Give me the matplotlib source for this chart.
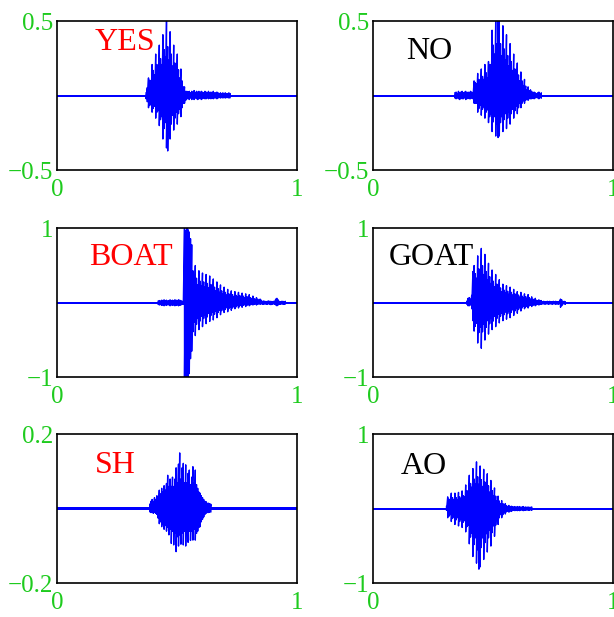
import numpy as np
import matplotlib
matplotlib.use("Agg")
import matplotlib.pyplot as plt

plt.rcParams['font.family'] = ['Liberation Serif', 'DejaVu Serif']

# ---------------- data (waveform envelopes) ----------------
STEP = 0.005  # time step of the sampled envelope

words = ['YES', 'NO', 'BOAT', 'GOAT', 'SH', 'AO']
word_colors = ['#ff0000', '#000000', '#ff0000', '#000000', '#ff0000', '#000000']
y_limits = [(-0.5, 0.5), (-0.5, 0.5), (-1, 1), (-1, 1), (-0.2, 0.2), (-1, 1)]
y_ticklabels = [['\u22120.5', '0.5'], ['\u22120.5', '0.5'], ['\u22121', '1'],
                ['\u22121', '1'], ['\u22120.2', '0.2'], ['\u22121', '1']]
x_ticklabels = ['0', '1']
baseline_noise = [0.006, 0.006, 0.012, 0.012, 0.0045, 0.011]
t_start = [0.370, 0.340, 0.420, 0.390, 0.385, 0.305]

yes_hi = [0.02, 0.055, 0.12, 0.105, 0.10, 0.21, 0.17, 0.14, 0.28, 0.21, 0.18, 0.34, 0.25, 0.21,
          0.41, 0.31, 0.26, 0.50, 0.33, 0.24, 0.43, 0.28, 0.20, 0.34, 0.22, 0.165, 0.28, 0.175,
          0.12, 0.18, 0.10, 0.06, 0.06, 0.03, 0.03,
          0.025, 0.03, 0.02, 0.03, 0.025, 0.035, 0.02, 0.03, 0.025, 0.03, 0.02, 0.03, 0.025, 0.02,
          0.03, 0.025, 0.02, 0.03, 0.02, 0.025, 0.02, 0.03, 0.02, 0.02, 0.025, 0.02, 0.015, 0.02,
          0.015, 0.02, 0.015, 0.02, 0.015, 0.015, 0.02, 0.015]
yes_lo = [-0.02, -0.04, -0.08, -0.065, -0.055, -0.11, -0.085, -0.07, -0.15, -0.11, -0.10, -0.20,
          -0.16, -0.14, -0.29, -0.22, -0.18, -0.35, -0.37, -0.18, -0.29, -0.19, -0.13, -0.23,
          -0.15, -0.11, -0.19, -0.12, -0.09, -0.14, -0.08, -0.05, -0.05, -0.03, -0.02,
          -0.02, -0.025, -0.015, -0.025, -0.02, -0.025, -0.015, -0.02, -0.025, -0.02, -0.015,
          -0.025, -0.02, -0.015, -0.02, -0.02, -0.015, -0.02, -0.015, -0.02, -0.015, -0.02,
          -0.015, -0.015, -0.02, -0.015, -0.012, -0.015, -0.012, -0.015, -0.012, -0.015, -0.012,
          -0.012, -0.015, -0.012]

no_hi = [0.02, 0.025, 0.015, 0.03, 0.02, 0.025, 0.03, 0.02, 0.025, 0.03, 0.02, 0.025, 0.02, 0.03,
         0.025, 0.02,
         0.10, 0.09, 0.08, 0.15, 0.11, 0.095, 0.18, 0.13, 0.11, 0.21, 0.155, 0.12, 0.23, 0.21,
         0.21, 0.44, 0.34, 0.28, 0.50, 0.35, 0.50, 0.50, 0.35, 0.27, 0.47, 0.315, 0.24, 0.41,
         0.27, 0.20, 0.35, 0.23, 0.17, 0.28, 0.18, 0.13, 0.22, 0.14, 0.10, 0.16, 0.10, 0.065,
         0.11, 0.065, 0.04, 0.06, 0.035, 0.04, 0.03,
         0.02, 0.025, 0.02, 0.015, 0.02, 0.025, 0.015, 0.02]
no_lo = [-0.015, -0.02, -0.015, -0.02, -0.025, -0.015, -0.02, -0.02, -0.015, -0.025, -0.02,
         -0.015, -0.02, -0.02, -0.015, -0.02,
         -0.05, -0.05, -0.05, -0.11, -0.085, -0.065, -0.13, -0.09, -0.075, -0.15, -0.11, -0.095,
         -0.18, -0.14, -0.12, -0.24, -0.175, -0.14, -0.27, -0.19, -0.28, -0.27, -0.18, -0.14,
         -0.24, -0.16, -0.12, -0.22, -0.15, -0.11, -0.19, -0.12, -0.09, -0.15, -0.10, -0.07,
         -0.12, -0.08, -0.05, -0.08, -0.05, -0.035, -0.05, -0.03, -0.02, -0.03, -0.02, -0.02,
         -0.02,
         -0.015, -0.02, -0.015, -0.012, -0.015, -0.02, -0.012, -0.015]

boat_hi = [0.02, 0.03, 0.025, 0.035, 0.03, 0.04, 0.03, 0.035, 0.025, 0.03, 0.04, 0.03, 0.035,
           0.03, 0.04, 0.035, 0.03, 0.04, 0.035, 0.03, 0.02, 0.02,
           1.0, 0.97, 1.0, 0.98, 0.95, 0.86, 0.78, 0.43, 0.30, 0.50, 0.33, 0.24, 0.43, 0.29,
           0.225, 0.40, 0.28, 0.215, 0.38, 0.26, 0.20, 0.36, 0.245, 0.18, 0.32, 0.21, 0.16, 0.28,
           0.19, 0.14, 0.24, 0.16, 0.12, 0.21, 0.14, 0.105, 0.18, 0.12, 0.094, 0.16, 0.11, 0.083,
           0.15, 0.10, 0.077, 0.14, 0.10, 0.077, 0.13, 0.09, 0.066, 0.12, 0.084, 0.06, 0.11, 0.07,
           0.055, 0.09, 0.056, 0.044, 0.07, 0.05, 0.035, 0.05, 0.035,
           0.02, 0.025, 0.02, 0.015, 0.02, 0.025, 0.02, 0.02, 0.015, 0.02, 0.02,
           0.05, 0.06, 0.04, 0.02, 0.015, 0.02, 0.02, 0.015, 0.02]
boat_lo = [-0.02, -0.03, -0.025, -0.035, -0.03, -0.04, -0.03, -0.035, -0.025, -0.03, -0.04,
           -0.03, -0.035, -0.03, -0.04, -0.035, -0.03, -0.04, -0.035, -0.03, -0.02, -0.02,
           -1.0, -1.0, -0.98, -1.0, -0.95, -0.75, -0.65, -0.39, -0.26, -0.44, -0.29, -0.21,
           -0.36, -0.245, -0.18, -0.32, -0.21, -0.16, -0.28, -0.19, -0.14, -0.25, -0.17, -0.13,
           -0.23, -0.155, -0.115, -0.20, -0.13, -0.10, -0.16, -0.105, -0.077, -0.13, -0.09,
           -0.066, -0.12, -0.077, -0.06, -0.10, -0.07, -0.05, -0.08, -0.056, -0.04, -0.07,
           -0.042, -0.033, -0.06, -0.035, -0.028, -0.05, -0.035, -0.022, -0.04, -0.028, -0.022,
           -0.03, -0.021, -0.017, -0.03, -0.02, -0.015, -0.02, -0.015,
           -0.02, -0.02, -0.015, -0.02, -0.02, -0.015, -0.02, -0.025, -0.02, -0.015, -0.02,
           -0.03, -0.04, -0.03, -0.02, -0.02, -0.015, -0.02, -0.02, -0.015]

goat_hi = [0.02, 0.06, 0.07, 0.05, 0.10, 0.42, 0.50, 0.39, 0.33, 0.63, 0.455, 0.385, 0.73, 0.50,
           0.38, 0.65, 0.42, 0.31, 0.53, 0.35, 0.26, 0.44, 0.29, 0.215, 0.38, 0.25, 0.18, 0.31,
           0.20, 0.15, 0.25, 0.17, 0.13, 0.23, 0.155, 0.115, 0.21, 0.14, 0.105, 0.18, 0.12, 0.09,
           0.15, 0.105, 0.077, 0.14, 0.09, 0.07, 0.12, 0.084, 0.06, 0.11, 0.07, 0.05, 0.08, 0.05,
           0.04, 0.06, 0.035, 0.03, 0.04, 0.03, 0.03,
           0.015, 0.02, 0.015, 0.015, 0.02, 0.015, 0.02, 0.015, 0.015, 0.02, 0.015, 0.02, 0.015,
           0.015, 0.02,
           0.05, 0.04, 0.015, 0.02, 0.015]
goat_lo = [-0.02, -0.04, -0.04, -0.03, -0.08, -0.24, -0.38, -0.315, -0.275, -0.54, -0.40, -0.33,
           -0.61, -0.39, -0.29, -0.50, -0.33, -0.24, -0.42, -0.28, -0.21, -0.36, -0.245, -0.18,
           -0.32, -0.21, -0.155, -0.27, -0.18, -0.14, -0.24, -0.16, -0.125, -0.22, -0.145, -0.11,
           -0.20, -0.13, -0.095, -0.17, -0.11, -0.08, -0.14, -0.09, -0.066, -0.11, -0.07, -0.05,
           -0.08, -0.056, -0.04, -0.07, -0.042, -0.033, -0.05, -0.035, -0.025, -0.04, -0.028,
           -0.02, -0.03, -0.02, -0.02,
           -0.015, -0.015, -0.02, -0.015, -0.015, -0.02, -0.015, -0.015, -0.02, -0.015, -0.015,
           -0.02, -0.015, -0.02, -0.015,
           -0.06, -0.04, -0.015, -0.015, -0.02]

sh_hi = [0.012, 0.02, 0.025, 0.018, 0.03, 0.025, 0.035, 0.03, 0.05, 0.04, 0.055, 0.045, 0.062,
         0.05, 0.068, 0.09, 0.06, 0.08, 0.06, 0.085, 0.06, 0.08, 0.11, 0.07, 0.12, 0.15, 0.08,
         0.11, 0.122, 0.07, 0.118, 0.07, 0.095, 0.104, 0.065, 0.085, 0.113, 0.07, 0.104, 0.065,
         0.055, 0.045, 0.042, 0.035, 0.03, 0.025, 0.02, 0.019, 0.015, 0.015, 0.014, 0.012]
sh_lo = [-0.008, -0.01, -0.01, -0.012, -0.01, -0.012, -0.015, -0.025, -0.04, -0.035, -0.048,
         -0.04, -0.055, -0.045, -0.06, -0.05, -0.07, -0.055, -0.093, -0.06, -0.097, -0.065,
         -0.115, -0.075, -0.1, -0.07, -0.095, -0.065, -0.097, -0.06, -0.1, -0.065, -0.09, -0.06,
         -0.085, -0.06, -0.084, -0.055, -0.084, -0.066, -0.06, -0.05, -0.048, -0.035, -0.028,
         -0.022, -0.015, -0.012, -0.01, -0.01, -0.009, -0.008]

ao_hi = [0.03, 0.16, 0.13, 0.115, 0.21, 0.15, 0.12, 0.21, 0.15, 0.12, 0.22, 0.16, 0.13, 0.24,
         0.175, 0.16, 0.32, 0.245, 0.22, 0.45, 0.34, 0.29, 0.54, 0.40, 0.33, 0.63, 0.43, 0.33,
         0.575, 0.39, 0.30, 0.53, 0.36, 0.27, 0.47, 0.31, 0.225, 0.38, 0.245, 0.175, 0.28, 0.17,
         0.11, 0.17, 0.105, 0.07, 0.11, 0.07, 0.045, 0.07, 0.045, 0.03, 0.045, 0.03, 0.035,
         0.03, 0.025, 0.03, 0.02, 0.03, 0.025, 0.03, 0.02, 0.025, 0.03, 0.02, 0.025, 0.02, 0.025,
         0.02, 0.02, 0.025]
ao_lo = [-0.02, -0.12, -0.10, -0.08, -0.17, -0.13, -0.11, -0.21, -0.15, -0.12, -0.23, -0.17,
         -0.14, -0.25, -0.18, -0.16, -0.31, -0.24, -0.22, -0.47, -0.38, -0.33, -0.64, -0.48,
         -0.39, -0.73, -0.55, -0.81, -0.78, -0.52, -0.39, -0.68, -0.455, -0.335, -0.58, -0.39,
         -0.29, -0.50, -0.32, -0.23, -0.37, -0.22, -0.15, -0.21, -0.12, -0.077, -0.12, -0.077,
         -0.05, -0.07, -0.04, -0.03, -0.045, -0.03, -0.035,
         -0.025, -0.02, -0.025, -0.02, -0.025, -0.02, -0.025, -0.015, -0.02, -0.025, -0.02,
         -0.02, -0.015, -0.02, -0.02, -0.015, -0.02]

upper = [yes_hi, no_hi, boat_hi, goat_hi, sh_hi, ao_hi]
lower = [yes_lo, no_lo, boat_lo, goat_lo, sh_lo, ao_lo]

# ---------------- layout / style ----------------
BLUE = '#0000ff'
GREEN = '#1ecb1e'
W, H = 614, 617
axes_px = [(57.3, 21.3), (373.3, 21.3), (57.3, 228.3), (373.3, 228.3),
           (57.3, 434.3), (373.3, 434.3)]
AX_W, AX_H = 240, 149
word_pos = [(0.28, 0.805), (0.232, 0.749), (0.308, 0.754), (0.243, 0.752),
            (0.2425, 0.7396), (0.211, 0.733)]

fig = plt.figure(figsize=(W / 100, H / 100), dpi=100)
for k in range(6):
    x0, y0 = axes_px[k]
    ax = fig.add_axes([x0 / W, 1 - (y0 + AX_H) / H, AX_W / W, AX_H / H])
    nz = baseline_noise[k]
    ax.fill_between([0, 1], [-nz, -nz], [nz, nz], color=BLUE, lw=0)
    hi = np.asarray(upper[k], dtype=float)
    lo = np.asarray(lower[k], dtype=float)
    n = min(len(hi), len(lo))
    t = t_start[k] + STEP * np.arange(n)
    ax.plot(np.repeat(t, 2), np.column_stack([hi[:n], lo[:n]]).ravel(),
            color=BLUE, lw=1.0)
    ymin, ymax = y_limits[k]
    ax.set_xlim(0, 1)
    ax.set_ylim(ymin, ymax)
    ax.set_xticks([0, 1])
    ax.set_xticklabels(x_ticklabels)
    ax.set_yticks([ymin, ymax])
    ax.set_yticklabels(y_ticklabels[k])
    ax.tick_params(length=0, labelsize=18, labelcolor=GREEN)
    ax.tick_params(axis='x', pad=6)
    ax.tick_params(axis='y', pad=3)
    for s in ax.spines.values():
        s.set_linewidth(1.2)
        s.set_color('black')
    tx, ty = word_pos[k]
    ax.text(tx, ty, words[k], transform=ax.transAxes, ha='center', va='baseline',
            fontsize=23, color=word_colors[k])

fig.savefig('out.png', dpi=100)
